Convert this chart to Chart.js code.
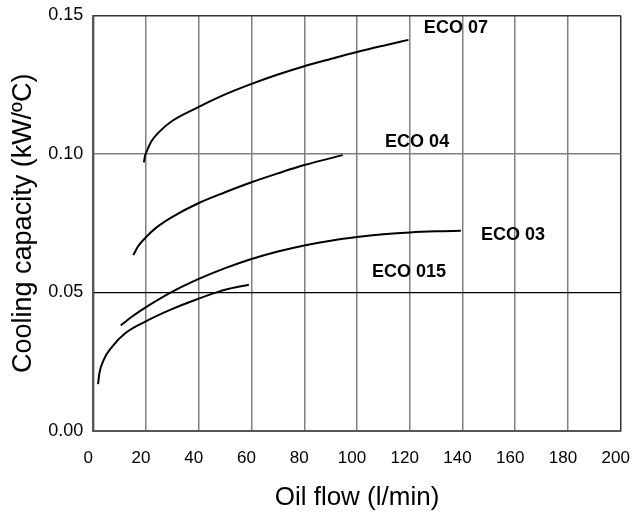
<!DOCTYPE html>
<html lang="en">

<head>
  <meta charset="UTF-8">
  <title>Cooling capacity vs oil flow</title>
  <script src="https://cdn.jsdelivr.net/npm/chart.js"></script>
  <style>
    html, body { margin: 0; padding: 0; background: #fff; }
    .chart-box { width: 632px; height: 516px; }
  </style>
</head>

<body>
  <div class="chart-box">
    <canvas id="coolingChart"></canvas>
  </div>

  <script>
    // Curves: oil flow (l/min) and cooling capacity (kW/ºC)
    const eco07Flow = [19.2, 19.6, 20.5, 22, 25, 30, 40, 50, 60, 70, 80, 90, 100, 110, 119.5];
    const eco07Cap = [0.0970, 0.0993, 0.1015, 0.1045, 0.1080, 0.1120, 0.1170, 0.1215, 0.1253,
      0.1287, 0.1317, 0.1343, 0.1368, 0.1391, 0.1412];

    const eco04Flow = [15.2, 17, 20, 24, 30, 40, 50, 60, 70, 80, 94.6];
    const eco04Cap = [0.0635, 0.0667, 0.0700, 0.0735, 0.0773, 0.0823, 0.0862, 0.0898, 0.0930, 0.0960, 0.0996];

    const eco03Flow = [10.4, 15, 20, 30, 40, 50, 60, 70, 80, 90, 100, 110, 120, 130, 139.4];
    const eco03Cap = [0.0381, 0.0415, 0.0447, 0.0503, 0.0549, 0.0588, 0.0621, 0.0648, 0.0670,
      0.0687, 0.0700, 0.0710, 0.0717, 0.0721, 0.0723];

    const eco015Flow = [1.8, 2.3, 3.9, 7.1, 12.1, 19.7, 29.8, 40, 45, 50, 59];
    const eco015Cap = [0.0169, 0.0208, 0.0256, 0.0304, 0.0353, 0.0395, 0.0440, 0.0478, 0.0495, 0.0510, 0.0528];

    // Curve names and where their labels sit (in data units)
    const curveNames = ["ECO 07", "ECO 04", "ECO 03", "ECO 015"];
    const labelFlow = [137.5, 122.8, 159.2, 119.7];
    const labelCap = [0.1455, 0.1043, 0.0708, 0.0575];

    const xTitle = "Oil flow (l/min)";
    const yTitle = "Cooling capacity (kW/ºC)";

    function toPoints(xs, ys) {
      return xs.map((x, i) => ({ x: x, y: ys[i] }));
    }

    function curve(name, xs, ys) {
      return {
        label: name,
        data: toPoints(xs, ys),
        showLine: true,
        borderColor: "#000",
        borderWidth: 2,
        pointRadius: 0,
        cubicInterpolationMode: "monotone",
        fill: false,
      };
    }

    // Draw the bold curve names next to each line
    const curveLabels = {
      id: "curveLabels",
      afterDatasetsDraw(chart) {
        const ctx = chart.ctx;
        const xs = chart.scales.x;
        const ys = chart.scales.y;
        ctx.save();
        ctx.font = "bold 18px 'Liberation Sans', Arial, sans-serif";
        ctx.fillStyle = "#000";
        ctx.textAlign = "center";
        ctx.textBaseline = "middle";
        curveNames.forEach((name, i) => {
          ctx.fillText(name, xs.getPixelForValue(labelFlow[i]), ys.getPixelForValue(labelCap[i]));
        });
        ctx.restore();
      },
    };

    const fontFamily = "'Liberation Sans', Arial, sans-serif";

    new Chart(document.getElementById("coolingChart").getContext("2d"), {
      type: "scatter",
      data: {
        datasets: [
          curve(curveNames[0], eco07Flow, eco07Cap),
          curve(curveNames[1], eco04Flow, eco04Cap),
          curve(curveNames[2], eco03Flow, eco03Cap),
          curve(curveNames[3], eco015Flow, eco015Cap),
        ],
      },
      options: {
        responsive: true,
        maintainAspectRatio: false,
        animation: false,
        layout: { padding: { top: 15.5, right: 11.3, bottom: 0, left: 0 } },
        plugins: {
          legend: { display: false },
          tooltip: { enabled: false },
        },
        scales: {
          x: {
            type: "linear",
            min: 0,
            max: 200,
            afterFit(scale) {
              scale.height = 85;
              scale.paddingLeft = 0;
              scale.paddingRight = 0;
            },
            ticks: {
              stepSize: 20,
              padding: 17,
              labelOffset: -5,
              color: "#000",
              font: { family: fontFamily, size: 17 },
            },
            grid: {
              drawTicks: false,
              lineWidth: 1.5,
              color: (c) => (c.tick && c.tick.value === 200 ? "#333" : "#808080"),
            },
            border: { color: "#555", width: 2 },
            title: {
              display: true,
              text: xTitle,
              color: "#000",
              padding: { top: 0, bottom: 3 },
              font: { family: fontFamily, size: 26 },
            },
          },
          y: {
            min: 0,
            max: 0.15,
            afterFit(scale) {
              scale.width = 93.3;
              scale.paddingTop = 0;
              scale.paddingBottom = 0;
            },
            ticks: {
              stepSize: 0.05,
              padding: 10,
              color: "#000",
              font: { family: fontFamily, size: 18 },
              callback: (v) => v.toFixed(2),
            },
            grid: {
              drawTicks: false,
              lineWidth: (c) => (c.tick && Math.abs(c.tick.value - 0.05) < 1e-6 ? 1.2 : 1.5),
              color: (c) => {
                if (!c.tick) return "#808080";
                if (Math.abs(c.tick.value - 0.05) < 1e-6) return "#000";
                if (Math.abs(c.tick.value - 0.15) < 1e-6) return "#333";
                return "#808080";
              },
            },
            border: { color: "#555", width: 2 },
            title: {
              display: true,
              text: yTitle,
              color: "#000",
              padding: { top: 7, bottom: 0 },
              font: { family: fontFamily, size: 27 },
            },
          },
        },
      },
      plugins: [curveLabels],
    });
  </script>
</body>

</html>
